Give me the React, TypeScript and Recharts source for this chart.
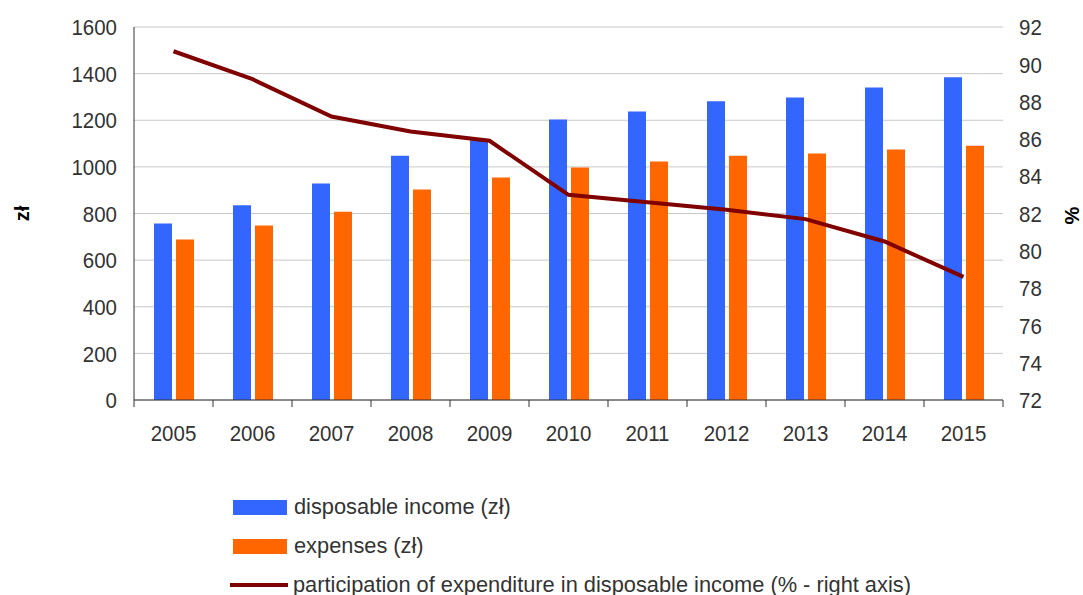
import React from 'react';
import { ComposedChart, Bar, Line, XAxis, YAxis, CartesianGrid } from 'recharts';

const years = ['2005', '2006', '2007', '2008', '2009', '2010', '2011', '2012', '2013', '2014', '2015'];
const income = [757, 835, 929, 1048, 1114, 1203, 1238, 1281, 1298, 1341, 1384];
const expenses = [688, 748, 808, 903, 954, 997, 1023, 1048, 1057, 1074, 1091];
const share = [90.7, 89.2, 87.2, 86.4, 85.9, 83.0, 82.6, 82.2, 81.7, 80.5, 78.6];
const leftTicks = [0, 200, 400, 600, 800, 1000, 1200, 1400, 1600];
const rightTicks = [72, 74, 76, 78, 80, 82, 84, 86, 88, 90, 92];

const data = years.map((y, i) => ({ year: y, income: income[i], expenses: expenses[i], share: share[i] }));

const W = 1083;
const H = 595;
const M = { top: 27, right: 0, bottom: 165, left: 0 };
const LEFT_W = 134;
const RIGHT_W = 80;
const HALF_BAND = (W - LEFT_W - RIGHT_W) / years.length / 2;
const FONT = '"Liberation Sans", Arial, sans-serif';
const TXT = '#333333';
const FS = 20.5;
const SY = 1.12;

const XTick = (props: any) => {
  const { x, y, payload, index } = props;
  const last = index === years.length - 1;
  const b = y + 41;
  return (
    <g>
      <line x1={x - HALF_BAND} x2={x - HALF_BAND} y1={y} y2={y + 7} stroke="#333" strokeWidth={1} />
      {last && <line x1={x + HALF_BAND} x2={x + HALF_BAND} y1={y} y2={y + 7} stroke="#333" strokeWidth={1} />}
      <g transform={`translate(0 ${b}) scale(1 ${SY}) translate(0 ${-b})`}>
        <text x={x} y={b} textAnchor="middle" fontSize={FS} fill={TXT} fontFamily={FONT}>
          {payload.value}
        </text>
      </g>
    </g>
  );
};

const YTick = (props: any) => {
  const { x, y, payload, textAnchor } = props;
  const cy = y;
  return (
    <g transform={`translate(0 ${cy}) scale(1 ${SY}) translate(0 ${-cy})`}>
      <text x={x} y={cy + 0.358 * FS} textAnchor={textAnchor} fontSize={FS} fill={TXT} fontFamily={FONT}>
        {payload.value}
      </text>
    </g>
  );
};

const legendItems = [
  { label: 'disposable income (zł)', color: '#3366FF', type: 'rect' },
  { label: 'expenses (zł)', color: '#FF6600', type: 'rect' },
  { label: 'participation of expenditure in disposable income (% - right axis)', color: '#800000', type: 'line' },
];

export default function App() {
  return (
    <div style={{ position: 'absolute', left: 0, top: 0, width: W, height: H, background: '#fff' }}>
      <ComposedChart width={W} height={H} data={data} margin={M} barSize={18} barGap={4}>
        <CartesianGrid vertical={false} stroke="#c8c8c8" yAxisId="left" />
        <XAxis
          dataKey="year"
          tick={<XTick />}
          tickLine={false}
          tickSize={0}
          tickMargin={0}
          height={30}
          axisLine={{ stroke: '#333' }}
          interval={0}
        />
        <YAxis
          yAxisId="left"
          orientation="left"
          width={LEFT_W}
          domain={[0, 1600]}
          ticks={leftTicks}
          interval={0}
          tickLine={false}
          tickSize={6}
          tickMargin={11}
          axisLine={{ stroke: '#333' }}
          tick={<YTick />}
          label={(p: any) => {
            const vb = p.viewBox;
            const cx = vb.x + 22;
            const cy = vb.y + vb.height / 2;
            return (
              <text x={cx} y={cy} transform={`rotate(-90 ${cx} ${cy})`} textAnchor="middle" dominantBaseline="central" fontSize={20} fontWeight="bold" fill="#000" fontFamily={FONT}>
                zł
              </text>
            );
          }}
        />
        <YAxis
          yAxisId="right"
          orientation="right"
          width={RIGHT_W}
          domain={[72, 92]}
          ticks={rightTicks}
          interval={0}
          tickLine={false}
          axisLine={false}
          tickSize={6}
          tickMargin={10}
          tick={<YTick />}
          label={(p: any) => {
            const vb = p.viewBox;
            const cx = vb.x + 69;
            const cy = vb.y + vb.height / 2 + 2;
            return (
              <text x={cx} y={cy} transform={`rotate(-90 ${cx} ${cy})`} textAnchor="middle" dominantBaseline="central" fontSize={20} fontWeight="bold" fill="#000" fontFamily={FONT}>
                %
              </text>
            );
          }}
        />
        <Bar yAxisId="left" dataKey="income" fill="#3366FF" isAnimationActive={false} />
        <Bar yAxisId="left" dataKey="expenses" fill="#FF6600" isAnimationActive={false} />
        <Line yAxisId="right" dataKey="share" stroke="#800000" strokeWidth={4} dot={false} type="linear" isAnimationActive={false} />
      </ComposedChart>
      <div style={{ position: 'absolute', left: 230, top: 492, fontFamily: FONT, fontSize: 21.8, color: TXT }}>
        {legendItems.map((it, i) => (
          <div key={i} style={{ display: 'flex', alignItems: 'center', height: 30, marginBottom: i < 2 ? 9 : 0 }}>
            {it.type === 'rect' ? (
              <div style={{ width: 54, height: 15, background: it.color, marginLeft: 3, marginRight: 7 }} />
            ) : (
              <div style={{ width: 58, height: 4, background: it.color, marginRight: 5 }} />
            )}
            <span>{it.label}</span>
          </div>
        ))}
      </div>
    </div>
  );
}
